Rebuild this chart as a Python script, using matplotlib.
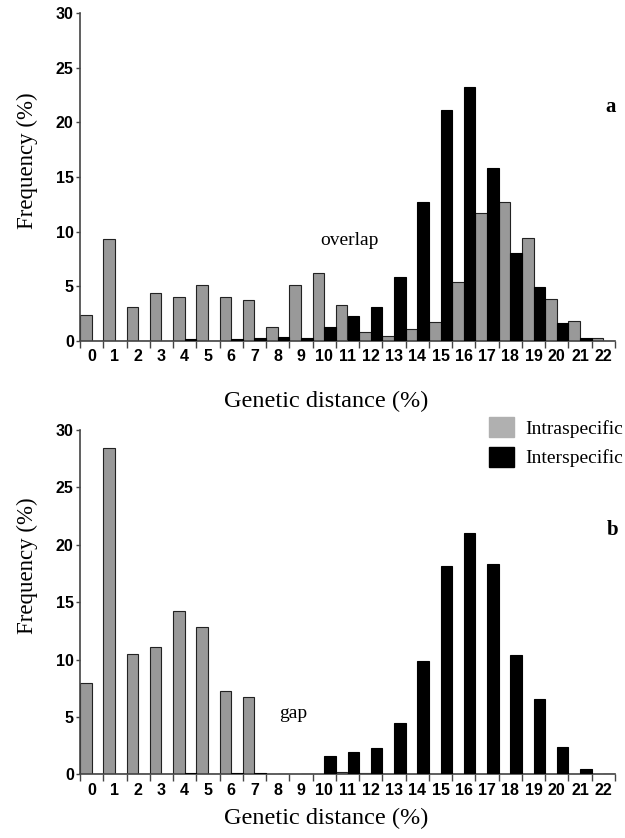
import matplotlib
matplotlib.use("Agg")
import matplotlib.pyplot as plt
import numpy as np
from matplotlib.patches import Patch

categories = list(range(23))
tick_labels = [str(c) for c in categories]

# Panel a
intra_a = [2.35, 9.29, 3.12, 4.34, 4.03, 5.10, 4.03, 3.73, 1.22, 5.10, 6.2, 3.24,
           0.76, 0.43, 1.04, 1.71, 5.38, 11.67, 12.68, 9.38, 3.82, 1.83, 0.21]
inter_a = [0, 0, 0, 0, 0.15, 0, 0.15, 0.27, 0.37, 0.27, 1.25, 2.23,
           3.06, 5.84, 12.68, 21.14, 23.22, 15.86, 8.0, 4.95, 1.59, 0.21, 0]

# Panel b
intra_b = [7.99, 28.4, 10.46, 11.12, 14.26, 12.84, 7.26, 6.71, 0, 0, 0, 0.2,
           0.1, 0, 0, 0, 0, 0, 0, 0, 0, 0, 0]
inter_b = [0, 0, 0, 0, 0.1, 0, 0.1, 0.1, 0.05, 0.05, 1.6, 1.97,
           2.27, 4.44, 9.85, 18.15, 21.0, 18.33, 10.4, 6.53, 2.35, 0.46, 0]

yticks = [0, 5, 10, 15, 20, 25, 30]

fig = plt.figure(figsize=(6.25, 8.38), dpi=100)
ax_a = fig.add_axes([0.128, 0.5934, 0.856, 0.391])
ax_b = fig.add_axes([0.128, 0.076, 0.856, 0.411])

serif = ["Liberation Serif", "DejaVu Serif"]
sans = ["Liberation Sans", "DejaVu Sans"]
gray = "#999999"
spine_c = "#444444"

def draw(ax, intra, inter, letter, letter_xy, note, note_xy, ylab_y, xlab_y):
    x = np.arange(len(categories))
    ax.bar(x - 0.25, intra, width=0.5, color=gray, edgecolor="#222222", linewidth=0.8, zorder=2)
    ax.bar(x + 0.25, inter, width=0.5, color="black", edgecolor="black", linewidth=0.8, zorder=3)
    ax.set_xlim(-0.5, 22.5)
    ax.set_ylim(0, 30)
    for s in ["top", "right"]:
        ax.spines[s].set_visible(False)
    for s in ["left", "bottom"]:
        ax.spines[s].set_color(spine_c)
        ax.spines[s].set_linewidth(1.2)
    ax.set_yticks(yticks)
    ax.set_yticklabels([str(v) for v in yticks], fontfamily=sans, fontweight="bold", fontsize=11.5)
    ax.set_xticks(x)
    ax.set_xticklabels(tick_labels, fontfamily=sans, fontweight="bold", fontsize=11.5)
    ax.tick_params(axis="x", which="major", length=0, pad=6)
    ax.set_xticks(np.arange(-0.5, 23, 1.0), minor=True)
    ax.tick_params(axis="x", which="minor", length=5, direction="out", color=spine_c, width=1)
    ax.tick_params(axis="y", length=3, direction="out", color=spine_c, width=1, pad=1.5)
    ax.set_ylabel("Frequency (%)", fontfamily=serif, fontsize=16.5)
    ax.yaxis.label.set_verticalalignment("center")
    ax.yaxis.label.set_horizontalalignment("center")
    ax.yaxis.set_label_coords(-0.099, ylab_y)
    ax.set_xlabel("Genetic distance (%)", fontfamily=serif, fontsize=17.5)
    ax.xaxis.label.set_verticalalignment("center")
    ax.xaxis.set_label_coords(0.46, xlab_y)
    ax.text(letter_xy[0], letter_xy[1], letter, fontfamily=serif, fontweight="bold",
            fontsize=15, ha="center", va="center")
    ax.text(note_xy[0], note_xy[1], note, fontfamily=serif, fontsize=14, ha="center", va="center")

draw(ax_a, intra_a, inter_a, "a", (22.3, 21.4), "overlap", (11.1, 9.2), 0.548, -0.184)
draw(ax_b, intra_b, inter_b, "b", (22.4, 21.3), "gap", (8.66, 5.34), 0.605, -0.127)

handles = [Patch(facecolor="#b0b0b0", edgecolor="#b0b0b0"),
           Patch(facecolor="black", edgecolor="black")]
fig.legend(handles, ["Intraspecific", "Interspecific"], loc="upper left",
           bbox_to_anchor=(0.782, 0.502), frameon=False,
           prop={"family": serif, "size": 14}, handlelength=1.3, handleheight=1.2,
           handletextpad=0.6, labelspacing=0.45, borderaxespad=0, borderpad=0)

fig.savefig("out.png", dpi=100)
